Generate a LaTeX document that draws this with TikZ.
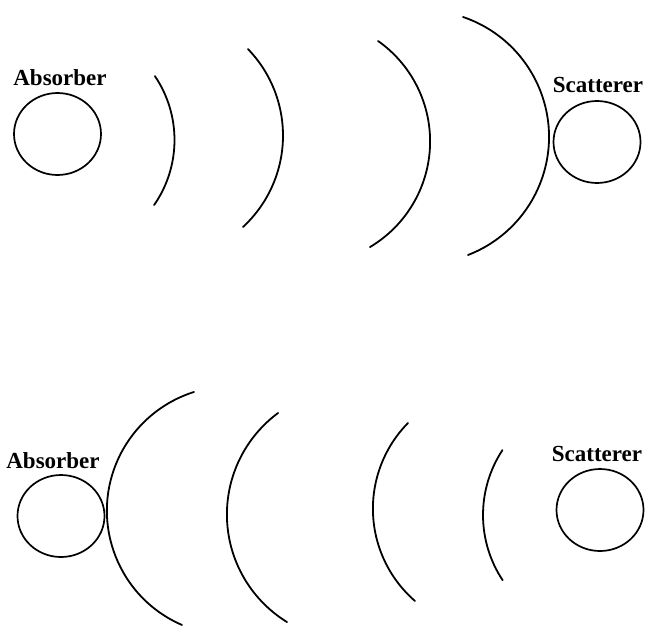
\documentclass[tikz,border=0pt]{standalone}
\usepackage{fontspec}
\setmainfont{Liberation Serif}
\usetikzlibrary{shapes.geometric}
\begin{document}
\begin{tikzpicture}[x=1pt,y=-1pt,
  body/.style={draw, ellipse, minimum width=87pt, minimum height=82pt, inner sep=0pt, line width=1.7pt},
  lbl/.style={font=\fontsize{23}{26}\selectfont\bfseries, inner sep=0pt},
  wave/.style={line width=1.8pt, line cap=round}]
\useasboundingbox (0,0) rectangle (647,626);
% top panel
\node[lbl] (labA1) at (60,78) {Absorber};
\node[body] (absA1) at (57.5,134) {};
\node[lbl] (labS1) at (598,85) {Scatterer};
\node[body] (scat1) at (597,142) {};
\draw[wave] ([shift={(60.5,140)}]-34.1:114) arc[start angle=-34.1, end angle=34.8, radius=114];
\draw[wave] ([shift={(158.6,135.6)}]-44.1:124.4) arc[start angle=-44.1, end angle=47.3, radius=124.4];
\draw[wave] ([shift={(307.2,141.4)}]-54.8:122.9) arc[start angle=-54.8, end angle=59.3, radius=122.9];
\draw[wave] ([shift={(422.4,136.9)}]-71.3:126.6) arc[start angle=-71.3, end angle=68.9, radius=126.6];
% bottom panel
\node[lbl] (labA2) at (53,461) {Absorber};
\node[body] (absA2) at (61,516) {};
\node[lbl] (labS2) at (597,454) {Scatterer};
\node[body] (scat2) at (600,510) {};
\draw[wave] ([shift={(231.4,510.7)}]113.4:124.5) arc[start angle=113.4, end angle=252.5, radius=124.5];
\draw[wave] ([shift={(353.2,514.5)}]121.6:126.3) arc[start angle=121.6, end angle=233.5, radius=126.3];
\draw[wave] ([shift={(495.2,508.7)}]131.0:122.3) arc[start angle=131.0, end angle=224.5, radius=122.3];
\draw[wave] ([shift={(601.1,515)}]146.5:118.1) arc[start angle=146.5, end angle=213.3, radius=118.1];
\end{tikzpicture}
\end{document}
